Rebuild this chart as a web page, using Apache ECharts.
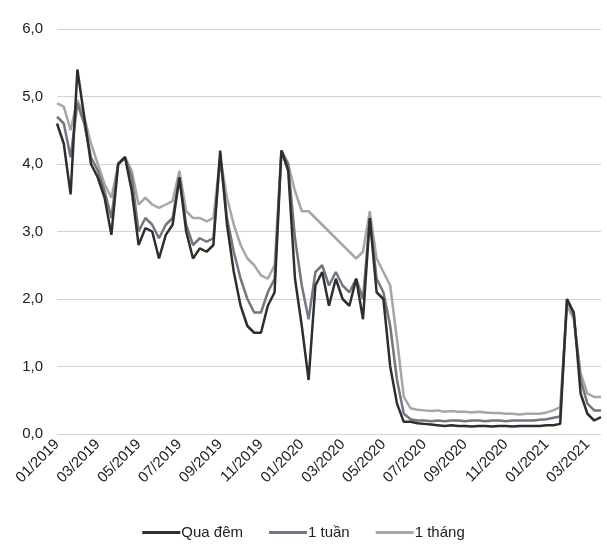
<!DOCTYPE html>
<html>
<head>
<meta charset="utf-8">
<script src="https://cdn.jsdelivr.net/npm/echarts@6/dist/echarts.min.js"></script>
<style>
html,body{margin:0;padding:0;background:#fff;}
#chart{width:607px;height:551px;}
</style>
</head>
<body>
<div id="chart"></div>
<script>
// 10-day sampling points, 01/2019 – 03/2021
const categories = [
"01/01/2019","11/01/2019","21/01/2019","01/02/2019","11/02/2019","21/02/2019",
"01/03/2019","11/03/2019","21/03/2019","01/04/2019","11/04/2019","21/04/2019",
"01/05/2019","11/05/2019","21/05/2019","01/06/2019","11/06/2019","21/06/2019",
"01/07/2019","11/07/2019","21/07/2019","01/08/2019","11/08/2019","21/08/2019",
"01/09/2019","11/09/2019","21/09/2019","01/10/2019","11/10/2019","21/10/2019",
"01/11/2019","11/11/2019","21/11/2019","01/12/2019","11/12/2019","21/12/2019",
"01/01/2020","11/01/2020","21/01/2020","01/02/2020","11/02/2020","21/02/2020",
"01/03/2020","11/03/2020","21/03/2020","01/04/2020","11/04/2020","21/04/2020",
"01/05/2020","11/05/2020","21/05/2020","01/06/2020","11/06/2020","21/06/2020",
"01/07/2020","11/07/2020","21/07/2020","01/08/2020","11/08/2020","21/08/2020",
"01/09/2020","11/09/2020","21/09/2020","01/10/2020","11/10/2020","21/10/2020",
"01/11/2020","11/11/2020","21/11/2020","01/12/2020","11/12/2020","21/12/2020",
"01/01/2021","11/01/2021","21/01/2021","01/02/2021","11/02/2021","21/02/2021",
"01/03/2021","11/03/2021","21/03/2021"
];

const tickLabels = ["01/2019","03/2019","05/2019","07/2019","09/2019","11/2019",
  "01/2020","03/2020","05/2020","07/2020","09/2020","11/2020","01/2021","03/2021"];

const seriesNames = ["Qua đêm", "1 tuần", "1 tháng"];

const overnight = [
4.6, 4.3, 3.55, 5.4, 4.7, 4.0, 3.8, 3.5, 2.95, 4.0,
4.1, 3.6, 2.8, 3.05, 3.0, 2.6, 2.95, 3.1, 3.8, 3.0,
2.6, 2.75, 2.7, 2.8, 4.2, 3.1, 2.4, 1.9, 1.6, 1.5,
1.5, 1.9, 2.1, 4.2, 3.9, 2.3, 1.6, 0.8, 2.2, 2.4,
1.9, 2.3, 2.0, 1.9, 2.3, 1.7, 3.2, 2.1, 2.0, 1.0,
0.45, 0.18, 0.18, 0.16, 0.15, 0.14, 0.13, 0.12, 0.13, 0.12,
0.12, 0.11, 0.12, 0.12, 0.11, 0.12, 0.12, 0.11, 0.12, 0.12,
0.12, 0.12, 0.13, 0.13, 0.15, 2.0, 1.8, 0.6, 0.3, 0.2,
0.25
];

const week = [
4.7, 4.6, 4.1, 4.9, 4.6, 4.1, 3.9, 3.6, 3.2, 4.0,
4.1, 3.8, 3.0, 3.2, 3.1, 2.9, 3.1, 3.2, 3.8, 3.1,
2.8, 2.9, 2.85, 2.9, 4.1, 3.2, 2.7, 2.3, 2.0, 1.8,
1.8, 2.1, 2.3, 4.2, 4.0, 2.9, 2.2, 1.7, 2.4, 2.5,
2.2, 2.4, 2.2, 2.1, 2.3, 2.0, 3.2, 2.3, 2.1, 1.6,
0.8, 0.3, 0.22, 0.2, 0.2, 0.19, 0.2, 0.19, 0.2, 0.2,
0.19, 0.2, 0.2, 0.19, 0.2, 0.2, 0.19, 0.2, 0.2, 0.2,
0.2, 0.21, 0.22, 0.24, 0.26, 2.0, 1.75, 0.8, 0.45, 0.35,
0.35
];

const month = [
4.9, 4.85, 4.5, 4.95, 4.7, 4.3, 4.0, 3.7, 3.5, 4.0,
4.1, 3.9, 3.4, 3.5, 3.4, 3.35, 3.4, 3.45, 3.9, 3.3,
3.2, 3.2, 3.15, 3.2, 4.1, 3.5, 3.1, 2.8, 2.6, 2.5,
2.35, 2.3, 2.5, 4.2, 4.0, 3.6, 3.3, 3.3, 3.2, 3.1,
3.0, 2.9, 2.8, 2.7, 2.6, 2.7, 3.3, 2.6, 2.4, 2.2,
1.4, 0.55, 0.38, 0.36, 0.35, 0.34, 0.35, 0.33, 0.34, 0.33,
0.33, 0.32, 0.33, 0.32, 0.31, 0.31, 0.3, 0.3, 0.29, 0.3,
0.3, 0.3, 0.32, 0.35, 0.4, 1.9, 1.7, 0.9, 0.6, 0.55,
0.55
];

const colors = ["#2e2e2e", "#6f7782", "#a6a6a6"];
const FONT = "'Liberation Sans', Arial, sans-serif";

const chart = echarts.init(document.getElementById('chart'), null, {renderer: 'canvas'});
chart.setOption({
  animation: false,
  backgroundColor: '#fff',
  color: colors,
  grid: {left: 57, right: 6, top: 29, bottom: 117, containLabel: false},
  legend: {
    data: seriesNames,
    bottom: 6,
    left: 'center',
    icon: 'rect',
    itemWidth: 38,
    itemHeight: 3,
    itemGap: 26,
    textStyle: {fontFamily: FONT, fontSize: 15, color: '#222', padding: [0, 0, 0, -4]}
  },
  xAxis: {
    type: 'category',
    data: categories,
    boundaryGap: false,
    axisLine: {show: false},
    axisTick: {show: false},
    splitLine: {show: false},
    axisLabel: {
      interval: function (idx) { return idx % 6 === 0; },
      formatter: function (v) {
        const i = categories.indexOf(v);
        return tickLabels[i / 6] || '';
      },
      rotate: 45,
      margin: 8,
      fontFamily: FONT,
      fontSize: 15,
      color: '#222'
    }
  },
  yAxis: {
    type: 'value',
    min: 0,
    max: 6,
    interval: 1,
    axisLine: {show: false},
    axisTick: {show: false},
    splitLine: {lineStyle: {color: '#d4d4d4', width: 1}},
    axisLabel: {
      formatter: function (v) { return v.toFixed(1).replace('.', ','); },
      margin: 14,
      fontFamily: FONT,
      fontSize: 15,
      color: '#222'
    }
  },
  series: [
    {name: seriesNames[0], type: 'line', data: overnight, showSymbol: false, z: 5,
     lineStyle: {width: 2.5, color: colors[0]}, itemStyle: {color: colors[0]}},
    {name: seriesNames[1], type: 'line', data: week, showSymbol: false, z: 4,
     lineStyle: {width: 2.5, color: colors[1]}, itemStyle: {color: colors[1]}},
    {name: seriesNames[2], type: 'line', data: month, showSymbol: false, z: 3,
     lineStyle: {width: 2.5, color: colors[2]}, itemStyle: {color: colors[2]}}
  ]
});
</script>
</body>
</html>
